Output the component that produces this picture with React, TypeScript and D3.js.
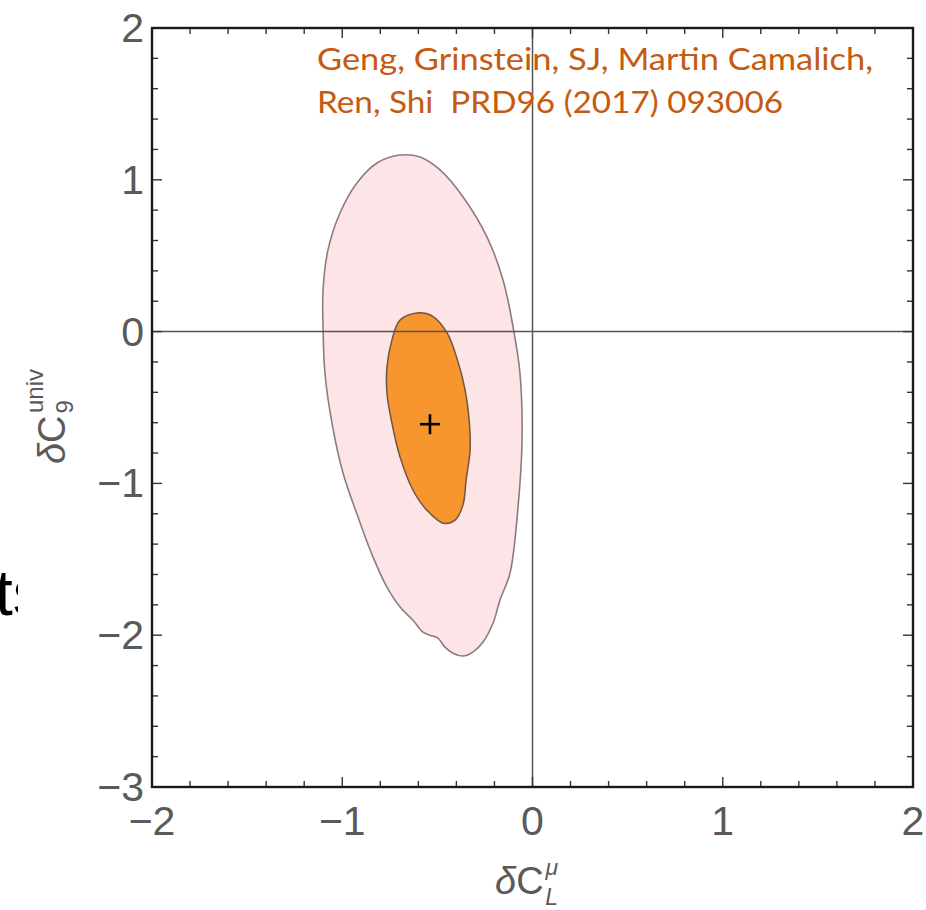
import React from "react";
import * as d3 from "d3";

// Outer (lighter) confidence region, [δC_L^μ, δC_9^univ]
const outerContour: [number, number][] = [
  [-0.696, 1.163], [-0.817, 1.111], [-0.923, 0.979], [-1.012, 0.781], [-1.075, 0.538],
  [-1.101, 0.274], [-1.101, 0.03], [-1.091, -0.273], [-1.054, -0.603], [-0.996, -0.932],
  [-0.917, -1.222], [-0.838, -1.486], [-0.765, -1.684], [-0.696, -1.815], [-0.628, -1.901],
  [-0.576, -1.98], [-0.539, -2.0], [-0.497, -2.019], [-0.46, -2.079], [-0.418, -2.119],
  [-0.365, -2.137], [-0.313, -2.111], [-0.26, -2.045], [-0.207, -1.92], [-0.171, -1.768],
  [-0.118, -1.59], [-0.076, -1.155], [-0.055, -0.714], [-0.066, -0.273], [-0.102, 0.03],
  [-0.155, 0.34], [-0.239, 0.623], [-0.365, 0.887], [-0.486, 1.065], [-0.591, 1.15],
];

// Inner (orange) confidence region
const innerContour: [number, number][] = [
  [-0.607, 0.123], [-0.696, 0.076], [-0.739, -0.056], [-0.765, -0.234], [-0.765, -0.406],
  [-0.739, -0.603], [-0.696, -0.827], [-0.628, -1.045], [-0.555, -1.177], [-0.47, -1.262],
  [-0.407, -1.242], [-0.365, -1.14], [-0.349, -0.978], [-0.328, -0.78], [-0.333, -0.583],
  [-0.354, -0.386], [-0.391, -0.201], [-0.449, -0.009], [-0.528, 0.103],
];

const bestFit: [number, number] = [-0.539, -0.61];

const xDomain: [number, number] = [-2, 2];
const yDomain: [number, number] = [-3, 2];
const xTickValues = [-2, -1, 0, 1, 2];
const yTickValues = [-3, -2, -1, 0, 1, 2];
const annotationLines = ["Geng, Grinstein, SJ, Martin Camalich,", "Ren, Shi  PRD96 (2017) 093006"];

const W = 926;
const H = 910;
const L = 152, R = 913, T = 28, B = 787;

const fmt = (v: number) => (v < 0 ? "\u2212" + Math.abs(v) : String(v));

export default function App() {
  const x = d3.scaleLinear().domain(xDomain).range([L, R]);
  const y = d3.scaleLinear().domain(yDomain).range([B, T]);

  const line = d3
    .line<[number, number]>()
    .x((d) => x(d[0]))
    .y((d) => y(d[1]))
    .curve(d3.curveCatmullRomClosed.alpha(0.5));

  const xMinor = d3.range(xDomain[0] * 5, xDomain[1] * 5 + 1).map((v) => v / 5);
  const yMinor = d3.range(yDomain[0] * 5, yDomain[1] * 5 + 1).map((v) => v / 5);
  const isMajor = (v: number) => Math.abs(v - Math.round(v)) < 1e-6;

  const tickColor = "#333";
  const labelColor = "#5a5a5a";
  const labelFont = "'Liberation Sans', Arial, sans-serif";

  return (
    <svg
      width={W}
      height={H}
      style={{ position: "absolute", left: 0, top: 0, display: "block", background: "#fff" }}
    >
      <defs>
        <clipPath id="leftClip">
          <rect x={0} y={520} width={18} height={140} />
        </clipPath>
      </defs>

      {/* partial slide text at left */}
      <g clipPath="url(#leftClip)">
        <text x={-5} y={615} fontFamily="'Liberation Sans', Arial, sans-serif" fontSize={64} fill="#000">
          ts
        </text>
      </g>

      {/* regions */}
      <path d={line(outerContour) || ""} fill="#fde5e7" stroke="#8c7c7e" strokeWidth={1.6} />
      <path d={line(innerContour) || ""} fill="#f7952e" stroke="#6e5640" strokeWidth={1.5} />

      {/* zero lines */}
      <line x1={x(0)} x2={x(0)} y1={T} y2={B} stroke="#555" strokeWidth={1.5} />
      <line x1={L} x2={R} y1={y(0)} y2={y(0)} stroke="#555" strokeWidth={1.5} />

      {/* best fit cross */}
      <g stroke="#000" strokeWidth={2.6}>
        <line x1={x(bestFit[0]) - 10} x2={x(bestFit[0]) + 10} y1={y(bestFit[1])} y2={y(bestFit[1])} />
        <line x1={x(bestFit[0])} x2={x(bestFit[0])} y1={y(bestFit[1]) - 10} y2={y(bestFit[1]) + 10} />
      </g>

      {/* ticks */}
      <g stroke={tickColor} strokeWidth={1.4}>
        {xMinor.map((v, i) => {
          const len = isMajor(v) ? 10 : 6;
          return (
            <g key={"xt" + i}>
              <line x1={x(v)} x2={x(v)} y1={B} y2={B - len} />
              <line x1={x(v)} x2={x(v)} y1={T} y2={T + len} />
            </g>
          );
        })}
        {yMinor.map((v, i) => {
          const len = isMajor(v) ? 10 : 6;
          return (
            <g key={"yt" + i}>
              <line x1={L} x2={L + len} y1={y(v)} y2={y(v)} />
              <line x1={R} x2={R - len} y1={y(v)} y2={y(v)} />
            </g>
          );
        })}
      </g>

      {/* frame */}
      <rect x={L} y={T} width={R - L} height={B - T} fill="none" stroke="#1a1a1a" strokeWidth={2.4} />

      {/* tick labels */}
      <g fontFamily={labelFont} fontSize={41} fill={labelColor}>
        {xTickValues.map((v) => (
          <text key={"xl" + v} x={x(v)} y={835} textAnchor="middle">
            {fmt(v)}
          </text>
        ))}
        {yTickValues.map((v) => (
          <text key={"yl" + v} x={144} y={y(v) + 14} textAnchor="end">
            {fmt(v)}
          </text>
        ))}
      </g>

      {/* axis titles */}
      <g fontFamily={labelFont} fill={labelColor}>
        <text x={495} y={894} fontSize={38}>
          <tspan fontStyle="italic">δ</tspan>
          <tspan>C</tspan>
          <tspan fontStyle="italic" fontSize={23} dx={2} dy={-19}>μ</tspan>
          <tspan fontStyle="italic" fontSize={23} dx={-13} dy={30}>L</tspan>
        </text>
        <text transform="translate(65,464) rotate(-90)" fontSize={38}>
          <tspan fontStyle="italic">δ</tspan>
          <tspan>C</tspan>
          <tspan fontSize={24} dx={2} dy={8}>9</tspan>
          <tspan fontSize={24} dx={-13} dy={-30}>univ</tspan>
        </text>
      </g>

      {/* annotation */}
      <g fontFamily="Lato, 'Open Sans', sans-serif" fontSize={31} fill="#c55a11" style={{ whiteSpace: "pre" }}>
        <text x={317} y={70} textLength={556} lengthAdjust="spacingAndGlyphs">
          {annotationLines[0]}
        </text>
        <text x={317} y={113} textLength={466} lengthAdjust="spacingAndGlyphs" xmlSpace="preserve">
          {annotationLines[1]}
        </text>
      </g>
    </svg>
  );
}
